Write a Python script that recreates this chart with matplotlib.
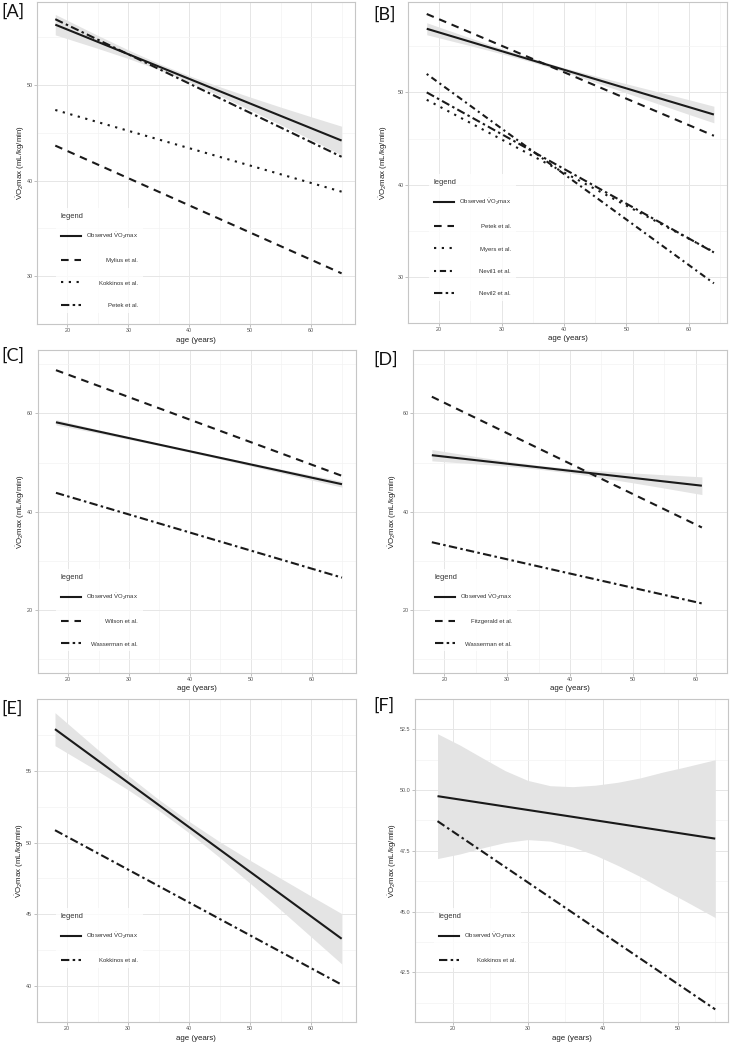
import matplotlib
matplotlib.use("Agg")
import matplotlib.pyplot as plt
from matplotlib.lines import Line2D

plt.rcParams['font.family'] = ['Liberation Sans', 'DejaVu Sans']
plt.rcParams['mathtext.fontset'] = 'custom'
plt.rcParams['mathtext.rm'] = 'Liberation Sans'
plt.rcParams['mathtext.it'] = 'Liberation Sans:italic'
plt.rcParams['mathtext.bf'] = 'Liberation Sans:bold'
plt.rcParams['lines.scale_dashes'] = False

# ---------------- data ----------------
OBS = r"Observed $\dot{\mathrm{V}}$O$_2$max"
YLABEL = r"$\dot{\mathrm{V}}$O$_2$max (mL/kg/min)"

# Panel A
A_age = [18, 65]
A_observed = [56.33, 44.2]
A_mylius = [43.67, 30.3]
A_kokkinos = [47.4, 38.85]
A_petek = [56.9, 42.5]
A_ci_age = [18, 25, 30, 35, 40, 45, 50, 55, 60, 65]
A_ci_high = [57.40, 55.20, 53.68, 52.26, 50.98, 49.83, 48.75, 47.70, 46.69, 45.70]
A_ci_low = [55.26, 53.84, 52.78, 51.62, 50.32, 48.89, 47.39, 45.86, 44.29, 42.70]

# Panel B
B_age = [18, 64]
B_observed = [56.9, 47.6]
B_petek = [58.5, 45.3]
B_myers = [49.2, 32.7]
B_nevill1 = [52.0, 29.3]
B_nevill2 = [50.0, 32.65]
B_ci_age = [18, 25, 30, 35, 40, 45, 50, 55, 60, 64]
B_ci_high = [57.55, 55.90, 54.75, 53.66, 52.67, 51.79, 50.93, 50.07, 49.21, 48.50]
B_ci_low = [56.25, 55.06, 54.19, 53.26, 52.23, 51.09, 49.93, 48.77, 47.61, 46.70]

# Panel C
C_age = [18, 65]
C_observed = [58.2, 45.6]
C_wilson = [68.8, 47.3]
C_wasserman = [43.85, 26.6]
C_ci_age = [18, 25, 35, 45, 55, 65]
C_ci_high = [58.75, 56.67, 53.84, 51.21, 48.68, 46.20]
C_ci_low = [57.65, 55.97, 53.44, 50.71, 47.88, 45.00]

# Panel D
D_age = [18, 61]
D_observed = [51.5, 45.3]
D_fitzgerald = [63.4, 36.8]
D_wasserman = [33.8, 21.35]
D_ci_age = [18, 25, 30, 35, 40, 45, 50, 55, 61]
D_ci_high = [52.65, 51.24, 50.27, 49.45, 48.78, 48.31, 47.89, 47.52, 47.10]
D_ci_low = [50.35, 49.74, 49.27, 48.65, 47.88, 46.91, 45.89, 44.82, 43.50]

# Panel E
E_age = [18, 65]
E_observed = [57.9, 43.3]
E_kokkinos = [50.86, 40.1]
E_ci_age = [18, 25, 30, 35, 40, 45, 50, 55, 60, 65]
E_ci_high = [59.05, 56.48, 54.67, 53.00, 51.47, 50.06, 48.76, 47.51, 46.27, 45.05]
E_ci_low = [56.75, 54.98, 53.67, 52.24, 50.67, 48.96, 47.16, 45.31, 43.43, 41.55]

# Panel F
F_age = [18, 55]
F_observed = [49.75, 48.0]
F_kokkinos = [48.72, 40.97]
F_ci_age = [18, 21, 24, 27, 30, 33, 36, 39, 42, 45, 48, 51, 55]
F_ci_high = [52.32, 51.85, 51.32, 50.80, 50.40, 50.18, 50.14, 50.20, 50.32, 50.50, 50.74, 50.95, 51.25]
F_ci_low = [47.18, 47.37, 47.62, 47.84, 47.96, 47.90, 47.66, 47.32, 46.90, 46.44, 45.92, 45.43, 44.75]

X_TICKS = [20, 30, 40, 50, 60]
F_X_TICKS = [20, 30, 40, 50]

# ---------------- styles ----------------
LINE_COLOR = '#1a1a1a'
LS = {
    'solid': '-',
    'dashed': (0, (5.5, 4.2)),
    'dotted': (0, (1.6, 4.0)),
    'dotdash': (0, (1.5, 2.7, 4.5, 2.7)),
    'twodash': (0, (6.0, 2.4, 1.8, 2.4)),
}
LW = 1.5

W, H = 730, 1043
fig = plt.figure(figsize=(W / 100, H / 100), dpi=100)


def add_box(l, t, r, b):
    return fig.add_axes([l / W, 1 - b / H, (r - l) / W, (b - t) / H])


legends = []


def panel(box, xlim, ylim, xticks, yticks, yfmt, age, ci, series,
          leg_xy, ylab_x, letter, letter_xy):
    l, t, r, b = box
    ax = add_box(l, t, r, b)
    ax.set_xlim(*xlim)
    ax.set_ylim(*ylim)
    ax.set_xticks(xticks)
    ax.set_yticks(yticks)
    ax.set_yticklabels([yfmt.format(v) for v in yticks])
    xminor = [(a + c) / 2 for a, c in zip(xticks[:-1], xticks[1:])]
    step = xticks[1] - xticks[0]
    xminor = [xticks[0] - step / 2] + xminor + [xticks[-1] + step / 2]
    ystep = yticks[1] - yticks[0]
    yminor = [yticks[0] - ystep / 2] + [(a + c) / 2 for a, c in zip(yticks[:-1], yticks[1:])] + [yticks[-1] + ystep / 2]
    ax.set_xticks(xminor, minor=True)
    ax.set_yticks(yminor, minor=True)
    ax.grid(True, which='major', color='#e6e6e6', lw=0.7)
    ax.grid(True, which='minor', color='#f3f3f3', lw=0.5)
    ax.set_axisbelow(True)
    for s in ax.spines.values():
        s.set_color('#c6c6c6')
        s.set_linewidth(0.8)
    ax.tick_params(which='major', length=2.0, width=0.6, color='#b5b5b5',
                   labelsize=3.9, labelcolor='#555555', pad=1.2)
    ax.tick_params(which='minor', length=0)

    ci_age, ci_lo, ci_hi = ci
    ax.fill_between(ci_age, ci_lo, ci_hi, color='#e4e4e4', lw=0, zorder=1)

    handles, labels = [], []
    for name, vals, style in series:
        ax.plot(age, vals, color=LINE_COLOR, lw=LW, ls=LS[style],
                zorder=3, solid_capstyle='butt')
        handles.append(Line2D([], [], color=LINE_COLOR, lw=LW, ls=LS[style]))
        labels.append(name)

    ax.set_xlabel('age (years)', fontsize=5.7, color='#222222', va='center')
    ax.xaxis.set_label_coords(0.5, -16 / (b - t))
    ax.set_ylabel(YLABEL, fontsize=5.7, color='#222222', va='center')
    ax.yaxis.set_label_coords((ylab_x - l) / (r - l), 0.5)

    lx, ly = leg_xy
    leg = ax.legend(handles, labels, title='legend', loc='upper left',
                    bbox_to_anchor=(lx / W, 1 - ly / H),
                    bbox_transform=fig.transFigure, borderaxespad=0,
                    fontsize=4.3, title_fontsize=5.4, alignment='left',
                    handlelength=3.35, handletextpad=0.84, labelspacing=2.86,
                    borderpad=0.8, frameon=True, fancybox=False)
    leg.get_frame().set_facecolor('white')
    leg.get_frame().set_edgecolor('none')
    leg.get_title().set_color('#333333')
    for txt in leg.get_texts():
        txt.set_color('#333333')
    leg._legend_box.sep = 8.0
    legends.append(leg)

    fig.text(letter_xy[0] / W, 1 - letter_xy[1] / H, letter, fontsize=13,
             family=['Lato', 'DejaVu Sans'], ha='left', va='center',
             color='#111111')
    return ax


panel((37, 2, 355, 324), (15.7, 67.2), (28.9, 58.7), X_TICKS, [30, 40, 50], '{:.0f}',
      A_age, (A_ci_age, A_ci_low, A_ci_high),
      [(OBS, A_observed, 'solid'), ('Mylius et al.', A_mylius, 'dashed'),
       ('Kokkinos et al.', A_kokkinos, 'dotted'), ('Petek et al.', A_petek, 'twodash')],
      (56, 208), 21, '[A]', (1, 12))

panel((408, 2, 727, 323), (15.7, 66.1), (27.9, 59.8), X_TICKS, [30, 40, 50], '{:.0f}',
      B_age, (B_ci_age, B_ci_low, B_ci_high),
      [(OBS, B_observed, 'solid'), ('Petek et al.', B_petek, 'dashed'),
       ('Myers et al.', B_myers, 'dotted'), ('Nevil1 et al.', B_nevill1, 'dotdash'),
       ('Nevil2 et al.', B_nevill2, 'twodash')],
      (429, 174), 384, '[B]', (373, 15))

panel((37.7, 350, 356, 673), (15.7, 67.3), (7.2, 72.9), X_TICKS, [20, 40, 60], '{:.0f}',
      C_age, (C_ci_age, C_ci_low, C_ci_high),
      [(OBS, C_observed, 'solid'), ('Wilson et al.', C_wilson, 'dashed'),
       ('Wasserman et al.', C_wasserman, 'twodash')],
      (56, 569), 21, '[C]', (1, 356))

panel((413, 350, 727, 673), (16.5, 62.9), (7.2, 72.9), X_TICKS, [20, 40, 60], '{:.0f}',
      D_age, (D_ci_age, D_ci_low, D_ci_high),
      [(OBS, D_observed, 'solid'), ('Fitzgerald et al.', D_fitzgerald, 'dashed'),
       ('Wasserman et al.', D_wasserman, 'twodash')],
      (430, 569), 393, '[D]', (373, 360))

panel((36.7, 699, 356, 1022), (15.65, 67.35), (39.25, 60.0), X_TICKS, [40, 45, 50, 55], '{:.0f}',
      E_age, (E_ci_age, E_ci_low, E_ci_high),
      [(OBS, E_observed, 'solid'), ('Kokkinos et al.', E_kokkinos, 'twodash')],
      (56, 908), 20, '[E]', (1, 709))

panel((415, 699, 728, 1022), (16.2, 56.7), (40.45, 52.88), F_X_TICKS,
      [42.5, 45.0, 47.5, 50.0, 52.5], '{:.1f}',
      F_age, (F_ci_age, F_ci_low, F_ci_high),
      [(OBS, F_observed, 'solid'), ('Kokkinos et al.', F_kokkinos, 'twodash')],
      (434, 908), 393, '[F]', (373, 706))

# right-align legend labels (ggplot-like look)
fig.canvas.draw()
renderer = fig.canvas.get_renderer()
for leg in legends:
    texts = leg.get_texts()
    widths = [t.get_window_extent(renderer).width * 72 / fig.dpi for t in texts]
    wmax = max(widths)
    items = []
    for col in leg._legend_handle_box.get_children():
        items.extend(col.get_children())
    base = leg.handletextpad * 4.3
    for item, w in zip(items, widths):
        item.sep = base + (wmax - w)

fig.savefig('out.png', dpi=100)
